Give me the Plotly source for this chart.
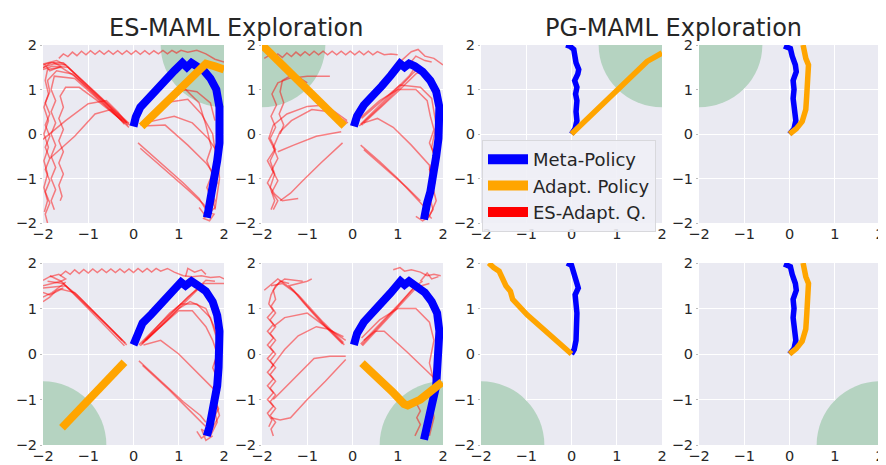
import plotly.graph_objects as go

# ---------------- data ----------------
PANEL_TITLES = ["ES-MAML Exploration", "PG-MAML Exploration"]
TICKS = [-2, -1, 0, 1, 2]
LEGEND_NAMES = ["Meta-Policy", "Adapt. Policy", "ES-Adapt. Q."]

# goal centres (one per panel, row-major) and goal radius
GOALS = [(2, 2), (-2, 2), (2, 2), (-2, 2), (-2, -2), (2, -2), (-2, -2), (2, -2)]
GOAL_RADIUS = 1.4

# ---- ES-MAML panels: meta-policy (blue) ----
BLUE_A = [(0.0,0.17),(0.05,0.38),(0.15,0.6),(0.3,0.78),(0.5,0.98),(0.7,1.2),(0.9,1.42),(1.08,1.6),(1.18,1.5),(1.28,1.6),(1.4,1.52),(1.55,1.43),(1.7,1.25),(1.83,1.0),(1.9,0.6),(1.92,0.2),(1.9,-0.2),(1.85,-0.6),(1.8,-0.95),(1.75,-1.3),(1.7,-1.55),(1.65,-1.75),(1.62,-1.88)]
BLUE_B = [(0.03,0.17),(0.1,0.4),(0.25,0.65),(0.45,0.85),(0.65,1.08),(0.85,1.32),(1.05,1.58),(1.15,1.5),(1.25,1.58),(1.38,1.52),(1.55,1.4),(1.72,1.2),(1.85,0.95),(1.92,0.6),(1.93,0.3),(1.9,-0.1),(1.85,-0.5),(1.8,-0.95),(1.72,-1.3),(1.65,-1.55),(1.6,-1.75),(1.58,-1.92)]
BLUE_E = [(0.0,0.2),(0.08,0.45),(0.2,0.68),(0.4,0.88),(0.6,1.1),(0.85,1.38),(1.05,1.58),(1.15,1.5),(1.28,1.6),(1.4,1.52),(1.6,1.38),(1.75,1.15),(1.85,0.85),(1.9,0.5),(1.9,0.1),(1.88,-0.3),(1.85,-0.7),(1.8,-1.05),(1.72,-1.4),(1.68,-1.6),(1.62,-1.8)]
BLUE_F = [(0.03,0.2),(0.1,0.45),(0.25,0.7),(0.45,0.9),(0.65,1.12),(0.85,1.35),(1.06,1.6),(1.15,1.52),(1.25,1.6),(1.4,1.5),(1.6,1.35),(1.75,1.15),(1.87,0.9),(1.92,0.5),(1.9,0.1),(1.88,-0.35),(1.85,-0.7),(1.78,-1.0),(1.72,-1.3),(1.65,-1.55),(1.6,-1.75),(1.58,-1.88)]

# ---- ES-MAML panels: adapted policy (orange) ----
ORANGE_A = [(0.18,0.17),(0.6,0.58),(1.0,0.98),(1.35,1.35),(1.6,1.58),(1.8,1.52),(2.0,1.45)]
ORANGE_B = [(-0.18,0.18),(-0.6,0.6),(-1.0,1.0),(-1.4,1.4),(-1.8,1.8),(-2.0,2.0)]
ORANGE_E = [(-0.2,-0.18),(-0.6,-0.58),(-1.0,-0.98),(-1.4,-1.4),(-1.58,-1.62)]
ORANGE_F = [(0.21,-0.2),(0.6,-0.55),(0.9,-0.85),(1.14,-1.1),(1.22,-1.13),(1.5,-1.0),(1.75,-0.82),(1.98,-0.62)]

# ---- ES-MAML panels: ES adaptation queries (red) ----
RED_A = [
    [(-1.65,1.7),(-1.55,1.8),(-1.45,1.74),(-1.35,1.84),(-1.25,1.76),(-1.15,1.86),(-1.05,1.78),(-0.95,1.87),(-0.85,1.79),(-0.75,1.87),(-0.65,1.79),(-0.55,1.87),(-0.45,1.79),(-0.35,1.87),(-0.25,1.79),(-0.15,1.87),(-0.05,1.79),(0.05,1.87),(0.15,1.79),(0.25,1.87),(0.35,1.79),(0.45,1.87),(0.55,1.8),(0.65,1.88),(0.75,1.8),(0.85,1.88),(0.95,1.82),(1.05,1.88),(1.2,1.84),(1.4,1.88),(1.6,1.8),(1.8,1.68),(2.0,1.62)],
    [(-0.08,0.2),(-0.5,0.6),(-1.0,1.08),(-1.5,1.55),(-1.75,1.58),(-2.0,1.5)],
    [(-0.12,0.2),(-0.6,0.68),(-1.1,1.15),(-1.45,1.5),(-1.8,1.52),(-2.0,1.45)],
    [(-0.1,0.24),(-0.7,0.8),(-1.2,1.28),(-1.55,1.6),(-1.85,1.6),(-2.0,1.55)],
    [(-0.15,0.25),(-0.9,0.95),(-1.35,1.35),(-1.7,1.42),(-1.9,1.2),(-1.85,0.95),(-1.95,0.7),(-1.85,0.45),(-1.95,0.2),(-1.85,-0.05),(-1.95,-0.3),(-1.85,-0.55),(-1.95,-0.8),(-1.85,-1.05),(-1.95,-1.3),(-1.85,-1.55),(-1.95,-1.8),(-1.9,-2.0)],
    [(-0.1,0.15),(-0.7,0.72),(-1.3,1.3),(-1.6,1.5),(-1.9,1.45),(-1.95,1.2),(-1.88,0.9),(-1.98,0.6),(-1.88,0.3),(-1.98,0.0),(-1.88,-0.3),(-1.98,-0.6),(-1.9,-0.9),(-1.98,-1.2),(-1.9,-1.5),(-1.97,-1.75)],
    [(-0.2,0.25),(-0.85,0.85),(-1.3,1.25),(-1.75,1.3),(-1.82,1.0),(-1.72,0.75),(-1.82,0.5),(-1.72,0.25),(-1.82,0.0),(-1.72,-0.25),(-1.82,-0.5),(-1.72,-0.75),(-1.82,-1.0),(-1.72,-1.25),(-1.82,-1.5),(-1.75,-1.7)],
    [(-0.25,0.3),(-0.8,0.75),(-1.2,1.05),(-1.5,1.05),(-1.62,0.85),(-1.55,0.6),(-1.65,0.35),(-1.55,0.1),(-1.65,-0.15),(-1.55,-0.4),(-1.65,-0.65),(-1.55,-0.9),(-1.65,-1.15),(-1.58,-1.4),(-1.62,-1.5)],
    [(-2.0,-0.12),(-1.5,0.3),(-1.0,0.68),(-0.6,0.75),(-0.35,0.5),(-0.15,0.25)],
    [(-1.85,-0.55),(-1.3,-0.05),(-0.85,0.45),(-0.5,0.55),(-0.2,0.22)],
    [(0.15,0.2),(0.8,0.72),(1.2,0.78),(1.5,0.45),(1.75,0.0),(1.82,-0.5),(1.75,-0.8),(1.85,-1.1),(1.72,-1.4),(1.8,-1.65),(1.6,-1.85)],
    [(0.22,0.22),(0.9,0.9),(1.15,1.0),(1.45,0.7),(1.6,0.2),(1.72,-0.3),(1.62,-0.6),(1.74,-0.9),(1.62,-1.2),(1.74,-1.5),(1.62,-1.75)],
    [(0.2,0.18),(0.7,0.2),(1.2,-0.25),(1.6,-0.65),(1.78,-0.9),(1.7,-1.2),(1.8,-1.5),(1.65,-1.8)],
    [(0.1,-0.2),(0.6,-0.65),(1.1,-1.1),(1.45,-1.45),(1.6,-1.7)],
    [(0.15,-0.32),(0.7,-0.8),(1.2,-1.25),(1.55,-1.58),(1.7,-1.8)],
    [(0.25,0.25),(0.9,0.4),(1.3,0.25),(1.65,-0.1),(1.85,-0.4),(1.9,-1.0),(1.8,-1.7)],
    [(0.3,0.3),(0.9,0.85),(1.1,1.0),(1.4,0.95),(1.7,0.7),(1.8,0.3)],
    [(1.45,-1.65),(1.6,-1.85),(1.72,-1.72),(1.55,-1.9),(1.68,-1.95),(1.78,-1.8),(1.6,-1.75)],
    [(-2.0,1.48),(-1.8,1.62),(-1.6,1.52),(-1.85,1.42),(-1.98,1.58),(-1.7,1.65),(-1.5,1.55)],
]
RED_B = [
    [(-1.95,1.7),(-1.85,1.76),(-1.75,1.7),(-1.65,1.8),(-1.55,1.72),(-1.45,1.82),(-1.35,1.74),(-1.25,1.84),(-1.15,1.76),(-1.05,1.85),(-0.95,1.77),(-0.85,1.86),(-0.75,1.78),(-0.65,1.86),(-0.55,1.78),(-0.45,1.86),(-0.35,1.78),(-0.25,1.86),(-0.15,1.78),(-0.05,1.86),(0.05,1.78),(0.15,1.86),(0.25,1.78),(0.35,1.86),(0.45,1.78),(0.55,1.85),(0.7,1.78),(0.85,1.8),(1.0,1.78)],
    [(1.05,1.62),(1.3,1.85),(1.45,1.9),(1.6,1.75),(1.8,1.7),(2.0,1.55)],
    [(1.2,1.5),(1.4,1.75),(1.6,1.65),(1.75,1.62)],
    [(0.15,0.18),(0.6,0.6),(1.0,1.0),(1.35,1.38),(1.5,1.5)],
    [(0.2,0.2),(0.65,0.62),(1.05,1.0),(1.4,1.35),(1.6,1.45)],
    [(0.18,0.22),(0.55,0.6),(0.95,1.0),(1.25,1.3),(1.42,1.55)],
    [(0.1,0.3),(0.6,0.75),(1.0,1.0),(1.4,1.0),(1.65,0.75),(1.72,0.4),(1.8,0.1),(1.7,-0.2),(1.82,-0.5),(1.7,-0.8),(1.82,-1.1),(1.7,-1.4),(1.78,-1.7),(1.65,-1.9)],
    [(0.2,0.35),(0.7,0.8),(1.05,1.1),(1.5,1.05),(1.75,0.8),(1.85,0.2),(1.75,-0.3),(1.88,-0.7),(1.75,-1.1),(1.85,-1.5),(1.7,-1.85)],
    [(0.18,-0.25),(0.6,-0.62),(1.0,-1.0),(1.42,-1.45),(1.6,-1.65)],
    [(0.25,-0.35),(0.75,-0.8),(1.2,-1.2),(1.5,-1.5)],
    [(0.25,0.25),(0.55,0.35),(0.9,0.15),(1.3,-0.25),(1.7,-0.7),(1.75,-1.3),(1.6,-1.85)],
    [(-0.1,0.25),(-0.5,0.5),(-0.9,0.55),(-1.35,0.3),(-1.6,0.05),(-1.75,-0.3),(-1.65,-0.55),(-1.78,-0.8),(-1.65,-1.05),(-1.78,-1.3),(-1.65,-1.5),(-1.75,-1.7)],
    [(-0.12,0.3),(-0.6,0.65),(-1.0,0.62),(-1.45,0.45),(-1.75,0.2),(-1.85,-0.1),(-1.72,-0.35),(-1.88,-0.6),(-1.75,-0.85),(-1.88,-1.1),(-1.72,-1.35),(-1.55,-1.5),(-1.2,-1.45)],
    [(-0.5,1.3),(-1.0,1.3),(-1.4,1.25),(-1.65,1.15),(-1.78,0.9),(-1.68,0.65),(-1.8,0.4),(-1.7,0.15),(-1.82,-0.1),(-1.7,-0.35),(-1.82,-0.6),(-1.72,-0.9),(-1.82,-1.2),(-1.72,-1.5),(-1.8,-1.7)],
    [(-1.0,1.15),(-1.3,1.35),(-1.55,1.2),(-1.6,0.95),(-1.52,0.7),(-1.62,0.45),(-1.52,0.2),(-1.6,0.0)],
    [(-0.22,-0.2),(-0.7,-0.65),(-1.1,-1.05),(-1.37,-1.33),(-1.6,-1.5)],
    [(-0.25,0.05),(-0.8,-0.05),(-1.3,-0.25),(-1.65,-0.4)],
    [(1.4,-1.85),(1.55,-1.95),(1.7,-1.85),(1.6,-1.75),(1.75,-1.9)],
]
RED_E = [
    [(-1.62,1.72),(-1.5,1.82),(-1.4,1.75),(-1.3,1.85),(-1.2,1.77),(-1.1,1.86),(-1.0,1.78),(-0.9,1.87),(-0.8,1.79),(-0.7,1.87),(-0.6,1.79),(-0.5,1.87),(-0.4,1.79),(-0.3,1.87),(-0.2,1.79),(-0.1,1.87),(0.0,1.79),(0.1,1.88),(0.2,1.8),(0.3,1.88),(0.4,1.8),(0.5,1.88),(0.6,1.82),(0.75,1.88),(0.9,1.8),(1.1,1.72),(1.3,1.7),(1.5,1.72),(1.7,1.68),(1.9,1.7),(2.0,1.65)],
    [(1.15,1.7),(1.2,1.88),(1.35,1.8),(1.5,1.85),(1.6,1.75)],
    [(-2.0,1.62),(-1.85,1.7),(-1.65,1.75),(-1.5,1.65),(-1.6,1.6),(-1.8,1.55),(-2.0,1.5)],
    [(-2.0,1.25),(-1.8,1.35),(-1.6,1.5),(-1.5,1.58)],
    [(-2.0,1.15),(-1.85,1.25),(-1.7,1.4),(-1.55,1.45)],
    [(-0.15,0.2),(-0.6,0.65),(-1.1,1.12),(-1.6,1.6),(-1.85,1.72)],
    [(-0.2,0.18),(-0.7,0.7),(-1.2,1.2),(-1.55,1.55),(-1.9,1.6)],
    [(-0.18,0.24),(-0.75,0.8),(-1.25,1.3),(-1.5,1.5),(-2.0,1.45)],
    [(0.12,0.2),(0.6,0.68),(1.1,1.15),(1.6,1.62),(1.8,1.6)],
    [(0.15,0.18),(0.65,0.65),(1.15,1.15),(1.55,1.55),(2.0,1.55)],
    [(0.18,0.22),(0.7,0.75),(1.2,1.25),(1.5,1.5)],
    [(0.2,0.25),(0.7,0.7),(1.0,0.95),(1.3,0.95),(1.6,0.6),(1.75,0.3),(1.85,0.0),(1.75,-0.3),(1.88,-0.6),(1.75,-0.9),(1.88,-1.2),(1.72,-1.5),(1.6,-1.75)],
    [(0.25,0.3),(0.8,0.9),(1.05,1.1),(1.4,1.1),(1.7,0.8),(1.82,0.4),(1.9,0.0),(1.8,-0.4),(1.9,-0.8),(1.78,-1.2),(1.85,-1.5),(1.7,-1.8)],
    [(0.28,0.3),(1.0,1.0),(1.25,1.15),(1.6,1.0),(1.78,0.6),(1.9,0.2),(1.8,-0.2),(1.92,-0.6),(1.8,-1.0),(1.9,-1.35),(1.7,-1.7)],
    [(0.22,0.2),(0.6,0.3),(1.0,0.0),(1.5,-0.5),(1.8,-0.8),(1.75,-1.3),(1.6,-1.7)],
    [(0.12,-0.15),(0.6,-0.6),(1.1,-1.05),(1.48,-1.35),(1.6,-1.5)],
    [(0.2,-0.25),(0.8,-0.8),(1.3,-1.3),(1.6,-1.6)],
    [(1.4,-1.7),(1.5,-1.85),(1.65,-1.75),(1.5,-1.65),(1.6,-1.9),(1.75,-1.8)],
    [(-0.25,0.3),(-0.9,0.95),(-1.3,1.35),(-1.6,1.42),(-1.85,1.3),(-2.0,1.35)],
]
RED_F = [
    [(-1.4,1.55),(-1.6,1.6),(-1.75,1.4),(-1.7,1.2),(-1.8,1.05),(-1.7,0.9),(-1.82,0.75),(-1.7,0.6),(-1.82,0.45),(-1.7,0.3),(-1.82,0.15),(-1.7,0.0),(-1.82,-0.15),(-1.7,-0.3),(-1.82,-0.45),(-1.7,-0.6),(-1.82,-0.75),(-1.7,-0.9),(-1.82,-1.05),(-1.7,-1.2),(-1.82,-1.35),(-1.7,-1.5),(-1.8,-1.65),(-1.75,-1.8)],
    [(-1.1,1.6),(-1.5,1.65),(-1.7,1.5),(-1.8,1.3),(-1.85,1.1),(-1.75,0.95),(-1.88,0.8),(-1.75,0.65),(-1.88,0.5),(-1.75,0.35),(-1.88,0.2),(-1.75,0.05),(-1.88,-0.1),(-1.75,-0.25),(-1.88,-0.4),(-1.75,-0.55),(-1.88,-0.7),(-1.75,-0.85),(-1.88,-1.0),(-1.75,-1.15),(-1.88,-1.3),(-1.78,-1.45),(-1.85,-1.6)],
    [(-0.18,0.2),(-0.6,0.62),(-1.0,1.05),(-1.3,1.4),(-1.65,1.65),(-1.95,1.4)],
    [(-0.22,0.22),(-0.7,0.7),(-1.1,1.15),(-1.4,1.5),(-1.0,1.6),(-0.9,1.65)],
    [(-0.2,0.25),(-0.65,0.7),(-1.2,1.3),(-1.55,1.55),(-1.8,1.5)],
    [(-0.15,0.3),(-0.6,0.6),(-1.0,0.9),(-1.5,0.8),(-1.75,0.6)],
    [(-0.2,0.38),(-0.55,0.55),(-0.8,0.6),(-1.2,0.4),(-1.5,0.1),(-1.8,-0.3)],
    [(-0.15,-0.05),(-0.5,-0.05),(-0.85,-0.1),(-1.3,-0.55),(-1.75,-1.0)],
    [(-0.15,-0.12),(-0.6,-0.6),(-1.0,-1.0),(-1.37,-1.4),(-1.6,-1.45),(-1.8,-1.4)],
    [(0.2,0.2),(0.6,0.62),(1.0,1.05),(1.4,1.5),(1.55,1.6)],
    [(0.22,0.18),(0.7,0.7),(1.1,1.12),(1.45,1.5)],
    [(0.18,0.22),(0.65,0.7),(1.05,1.12),(1.35,1.45),(1.7,1.55)],
    [(0.9,1.85),(1.05,1.9),(1.15,1.82),(1.3,1.85),(1.5,1.8),(1.65,1.72),(1.8,1.75),(1.95,1.72)],
    [(1.5,1.6),(1.65,1.78),(1.75,1.65),(1.9,1.7)],
    [(0.25,0.3),(0.5,0.5),(0.7,0.5),(1.2,0.05),(1.65,-0.38),(1.95,-0.67)],
    [(0.2,0.35),(0.6,0.75),(1.0,1.0),(1.4,1.0),(1.7,0.7),(1.8,0.3),(1.7,-0.2),(1.8,-0.6)],
    [(1.5,-0.95),(1.42,-1.1),(1.5,-1.25),(1.42,-1.4),(1.5,-1.55),(1.42,-1.7),(1.38,-1.8)],
    [(1.75,-1.0),(1.8,-1.4),(1.7,-1.8)],
]

# ---- PG-MAML panels ----
BLUE_C = [(0.0,0.0),(0.08,0.12),(0.12,0.3),(0.1,0.5),(0.12,0.75),(0.09,0.9),(0.12,1.05),(0.07,1.2),(0.14,1.35),(0.16,1.45),(0.1,1.6),(0.08,1.75),(0.05,1.9),(-0.03,1.97),(-0.12,2.0)]
ORANGE_C = [(0.0,0.0),(0.5,0.5),(1.0,1.0),(1.35,1.35),(1.67,1.63),(2.0,1.82)]
BLUE_D = [(0.0,0.0),(0.1,0.12),(0.14,0.3),(0.12,0.55),(0.08,0.8),(0.1,1.0),(0.08,1.2),(0.15,1.4),(0.13,1.55),(0.06,1.75),(0.02,1.92),(-0.12,1.98)]
ORANGE_D = [(0.0,0.0),(0.15,0.12),(0.28,0.28),(0.36,0.55),(0.38,0.85),(0.4,1.1),(0.42,1.35),(0.42,1.55),(0.36,1.7),(0.32,1.85),(0.3,2.0)]
BLUE_G = [(0.0,0.0),(0.06,0.1),(0.1,0.3),(0.12,0.6),(0.12,0.9),(0.1,1.1),(0.08,1.3),(0.15,1.45),(0.1,1.6),(0.06,1.8),(0.0,1.95),(-0.1,2.0)]
ORANGE_G = [(0.0,0.0),(-0.4,0.35),(-0.98,0.86),(-1.3,1.2),(-1.35,1.38),(-1.45,1.5),(-1.55,1.7),(-1.6,1.82),(-1.72,1.9),(-1.83,2.0)]
BLUE_H = [(0.0,0.0),(0.1,0.12),(0.14,0.3),(0.12,0.55),(0.08,0.8),(0.1,1.0),(0.08,1.2),(0.15,1.4),(0.13,1.55),(0.06,1.75),(0.02,1.92),(-0.12,1.98)]
ORANGE_H = [(0.0,0.0),(0.15,0.12),(0.28,0.28),(0.36,0.55),(0.38,0.85),(0.4,1.1),(0.42,1.35),(0.42,1.55),(0.36,1.7),(0.32,1.85),(0.3,2.0)]

BLUES = [BLUE_A, BLUE_B, BLUE_C, BLUE_D, BLUE_E, BLUE_F, BLUE_G, BLUE_H]
ORANGES = [ORANGE_A, ORANGE_B, ORANGE_C, ORANGE_D, ORANGE_E, ORANGE_F, ORANGE_G, ORANGE_H]
REDS = [RED_A, RED_B, [], [], RED_E, RED_F, [], []]

# ---------------- style ----------------
BLUE = "#0000ff"
ORANGE = "#ffa500"
RED = "rgba(255,0,0,0.48)"
GREEN = "#b5d3c1"
BG = "#eaeaf2"
TXT = "#262626"
FONT = "DejaVu Sans"

# the page body adds an 8 px margin; lay out in window pixels and subtract it
OFF = 8
WIN_W, WIN_H = 886, 465
W, H = WIN_W - OFF, WIN_H - OFF
X_PX = [(43, 224), (262, 443), (481, 662), (699, 880)]
Y_PX = [(45, 223), (263, 445)]


def fx(p):
    return (p - OFF) / W


def fy(p):
    return 1 - (p - OFF) / H


fig = go.Figure()


def xs(pts):
    return [p[0] for p in pts]


def ys(pts):
    return [p[1] for p in pts]


for i in range(8):
    r, c = divmod(i, 4)
    sfx = "" if i == 0 else str(i + 1)
    xa, ya = "x" + sfx, "y" + sfx
    x0, x1 = X_PX[c]
    y0, y1 = Y_PX[r]
    common = dict(range=[-2, 2], tickvals=TICKS, showgrid=True, gridcolor="white",
                  gridwidth=1, zeroline=False, showline=False,
                  tickcolor="#bbbbbb", fixedrange=True, automargin=False,
                  tickfont=dict(family=FONT, size=14.5, color=TXT))
    fig.layout["xaxis" + sfx] = dict(domain=[fx(x0), fx(x1)], anchor=ya, ticks="", **common)
    fig.layout["yaxis" + sfx] = dict(domain=[fy(y1), fy(y0)], anchor=xa, ticks="outside",
                                     ticklen=2, **common)

    gx, gy = GOALS[i]
    fig.add_shape(type="circle", xref=xa, yref=ya,
                  x0=gx - GOAL_RADIUS, x1=gx + GOAL_RADIUS,
                  y0=gy - GOAL_RADIUS, y1=gy + GOAL_RADIUS,
                  fillcolor=GREEN, line=dict(width=0), layer="between")

    es = c < 2
    for path in REDS[i]:
        fig.add_trace(go.Scatter(x=xs(path), y=ys(path), mode="lines", xaxis=xa, yaxis=ya,
                                 line=dict(color=RED, width=1.5), showlegend=False,
                                 hoverinfo="skip"))
    lw = 8 if es else 5.5
    fig.add_trace(go.Scatter(x=xs(BLUES[i]), y=ys(BLUES[i]), mode="lines", xaxis=xa, yaxis=ya,
                             line=dict(color=BLUE, width=lw), showlegend=False))
    fig.add_trace(go.Scatter(x=xs(ORANGES[i]), y=ys(ORANGES[i]), mode="lines", xaxis=xa, yaxis=ya,
                             line=dict(color=ORANGE, width=lw), showlegend=False))

# legend entries
for name, col in zip(LEGEND_NAMES, [BLUE, ORANGE, "#ff0000"]):
    fig.add_trace(go.Scatter(x=[None], y=[None], mode="lines", name=name, xaxis="x3", yaxis="y3",
                             line=dict(color=col, width=12), showlegend=True))

fig.add_annotation(text=PANEL_TITLES[0], xref="paper", yref="paper", x=fx(236), y=fy(28),
                   showarrow=False, xanchor="center", yanchor="middle",
                   font=dict(family=FONT, size=24, color=TXT))
fig.add_annotation(text=PANEL_TITLES[1], xref="paper", yref="paper", x=fx(673), y=fy(28),
                   showarrow=False, xanchor="center", yanchor="middle",
                   font=dict(family=FONT, size=24, color=TXT))

fig.update_layout(
    width=W, height=H,
    margin=dict(l=0, r=0, t=0, b=0, autoexpand=False),
    paper_bgcolor="white",
    plot_bgcolor=BG,
    font=dict(family=FONT, color=TXT),
    legend=dict(x=fx(482), y=fy(140), xanchor="left", yanchor="top",
                bgcolor="rgba(240,240,246,0.9)", bordercolor="#d8d8dc", borderwidth=1,
                font=dict(family=FONT, size=18, color=TXT), itemwidth=40,
                tracegroupgap=0),
)

fig.write_html("out.html")
